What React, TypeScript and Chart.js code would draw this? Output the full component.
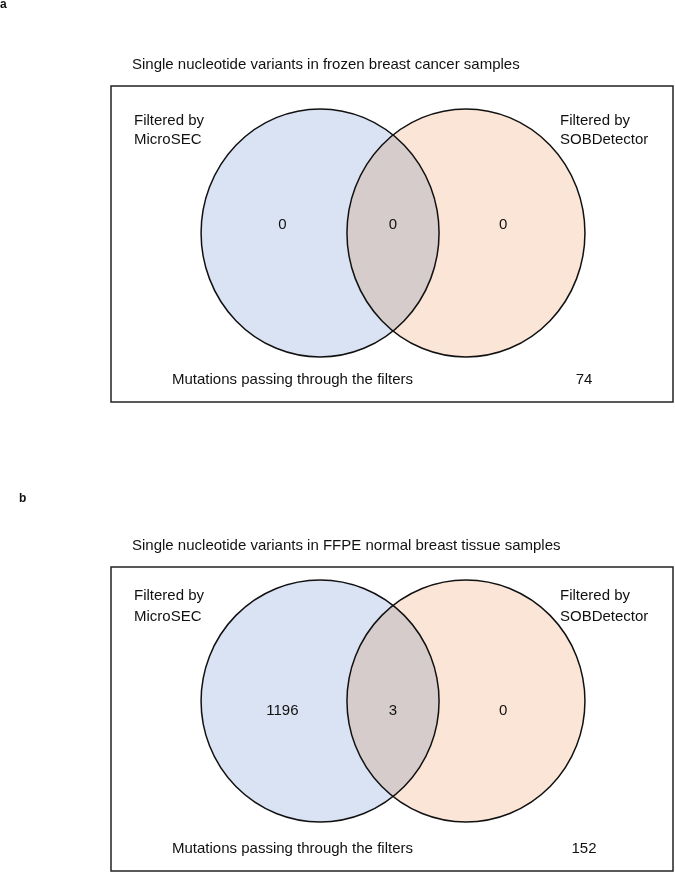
import React, { useEffect, useRef } from 'react';
import { Chart, registerables } from 'chart.js';

Chart.register(...registerables);

// ---------- data ----------
const panelLetters = ['a', 'b'];
const panelTitles = [
  'Single nucleotide variants in frozen breast cancer samples',
  'Single nucleotide variants in FFPE normal breast tissue samples',
];
const setPrefix = 'Filtered by';
const setNames = ['MicroSEC', 'SOBDetector'];
// region order: MicroSEC only, both, SOBDetector only
const regionCountsA = [0, 0, 0];
const regionCountsB = [1196, 3, 0];
const passingLabel = 'Mutations passing through the filters';
const passingCounts = [74, 152];
// Venn geometry in diagram units (unit radius circles)
const circleCentersX = [-0.613, 0.613];
const circleRadius = 1;
const regionLabelX = [-0.93, 0, 0.925];

const FONT = '"Liberation Sans", Arial, Helvetica, sans-serif';
const FILLS = ['#dae3f3', '#fbe5d6'];

const layouts = [
  {
    top: 0, height: 440,
    pad: { left: 111, right: 2, top: 86, bottom: 38 },
    xMin: -2.37, xMax: 2.353, yMin: -1.363, yMax: 1.185,
    countY: 0.065,
    letterX: 0, letterY: 8,
    setLabelDy: 35, setLabelGap: 19,
  },
  {
    top: 440, height: 443,
    pad: { left: 111, right: 2, top: 127, bottom: 12 },
    xMin: -2.37, xMax: 2.353, yMin: -1.405, yMax: 1.107,
    countY: -0.08,
    letterX: 19, letterY: 62,
    setLabelDy: 29, setLabelGap: 21,
  },
];

function makePlugin(idx: number) {
  const L = layouts[idx];
  return {
    id: 'venn' + idx,
    beforeDraw(chart: any) {
      const { ctx, width, height } = chart;
      ctx.save();
      ctx.fillStyle = '#ffffff';
      ctx.fillRect(0, 0, width, height);
      ctx.restore();
    },
    afterDatasetsDraw(chart: any) {
      const { ctx, chartArea: ca, scales } = chart;
      const xs = scales.x;
      const ys = scales.y;
      const circleMeta = chart.getDatasetMeta(0);
      const circleData = chart.data.datasets[0].data;
      const ellipses = circleMeta.data.map((pt: any, i: number) => {
        const raw = circleData[i];
        const rx = Math.abs(xs.getPixelForValue(raw.x + circleRadius) - pt.x);
        const ry = Math.abs(ys.getPixelForValue(raw.y + circleRadius) - pt.y);
        return { x: pt.x, y: pt.y, rx, ry };
      });
      ctx.save();
      ctx.globalCompositeOperation = 'multiply';
      ellipses.forEach((e: any, i: number) => {
        ctx.beginPath();
        ctx.ellipse(e.x, e.y, e.rx, e.ry, 0, 0, Math.PI * 2);
        ctx.fillStyle = FILLS[i];
        ctx.fill();
      });
      ctx.globalCompositeOperation = 'source-over';
      ctx.strokeStyle = '#111';
      ctx.lineWidth = 1.5;
      ellipses.forEach((e: any) => {
        ctx.beginPath();
        ctx.ellipse(e.x, e.y, e.rx, e.ry, 0, 0, Math.PI * 2);
        ctx.stroke();
      });
      // frame
      ctx.strokeStyle = '#222';
      ctx.lineWidth = 1.5;
      ctx.strokeRect(ca.left, ca.top, ca.right - ca.left, ca.bottom - ca.top);

      // region counts
      const countMeta = chart.getDatasetMeta(1);
      const countData = chart.data.datasets[1].data;
      ctx.fillStyle = '#111';
      ctx.font = `15px ${FONT}`;
      ctx.textAlign = 'center';
      ctx.textBaseline = 'middle';
      countMeta.data.forEach((pt: any, i: number) => {
        ctx.fillText(String(countData[i].v), pt.x, pt.y);
      });

      // set labels
      ctx.textAlign = 'left';
      const ly = ca.top + L.setLabelDy;
      ctx.fillText(setPrefix, ca.left + 23, ly);
      ctx.fillText(setNames[0], ca.left + 23, ly + L.setLabelGap);
      ctx.fillText(setPrefix, ca.left + 449, ly);
      ctx.fillText(setNames[1], ca.left + 449, ly + L.setLabelGap);

      // passing line
      const by = ca.bottom - 22;
      ctx.fillText(passingLabel, ca.left + 61, by);
      ctx.textAlign = 'center';
      ctx.fillText(String(passingCounts[idx]), ca.right - 89, by);

      // title
      ctx.textAlign = 'left';
      ctx.fillText(panelTitles[idx], ca.left + 21, ca.top - 21);

      // panel letter
      ctx.font = `bold 12px ${FONT}`;
      ctx.textBaseline = 'alphabetic';
      ctx.fillText(panelLetters[idx], L.letterX, L.letterY);
      ctx.restore();
    },
  };
}

function VennPanel({ idx }: { idx: number }) {
  const ref = useRef<HTMLCanvasElement>(null);
  useEffect(() => {
    const L = layouts[idx];
    const counts = idx === 0 ? regionCountsA : regionCountsB;
    const chart = new Chart(ref.current as HTMLCanvasElement, {
      type: 'scatter',
      data: {
        datasets: [
          {
            label: 'sets',
            data: circleCentersX.map((x) => ({ x, y: 0 })),
            pointRadius: 0,
          },
          {
            label: 'counts',
            data: counts.map((v, i) => ({ x: regionLabelX[i], y: L.countY, v })) as any,
            pointRadius: 0,
          },
        ],
      },
      options: {
        animation: false,
        responsive: false,
        events: [],
        layout: { padding: L.pad },
        plugins: { legend: { display: false }, tooltip: { enabled: false }, title: { display: false } },
        scales: {
          x: { type: 'linear', min: L.xMin, max: L.xMax, display: false },
          y: { type: 'linear', min: L.yMin, max: L.yMax, display: false },
        },
      },
      plugins: [makePlugin(idx)],
    });
    return () => chart.destroy();
  }, [idx]);
  const L = layouts[idx];
  return (
    <canvas
      ref={ref}
      width={675}
      height={L.height}
      style={{ position: 'absolute', left: 0, top: L.top, width: 675, height: L.height, display: 'block' }}
    />
  );
}

export default function App() {
  return (
    <div style={{ position: 'absolute', left: 0, top: 0, width: 675, height: 883, background: '#fff' }}>
      <VennPanel idx={0} />
      <VennPanel idx={1} />
    </div>
  );
}
